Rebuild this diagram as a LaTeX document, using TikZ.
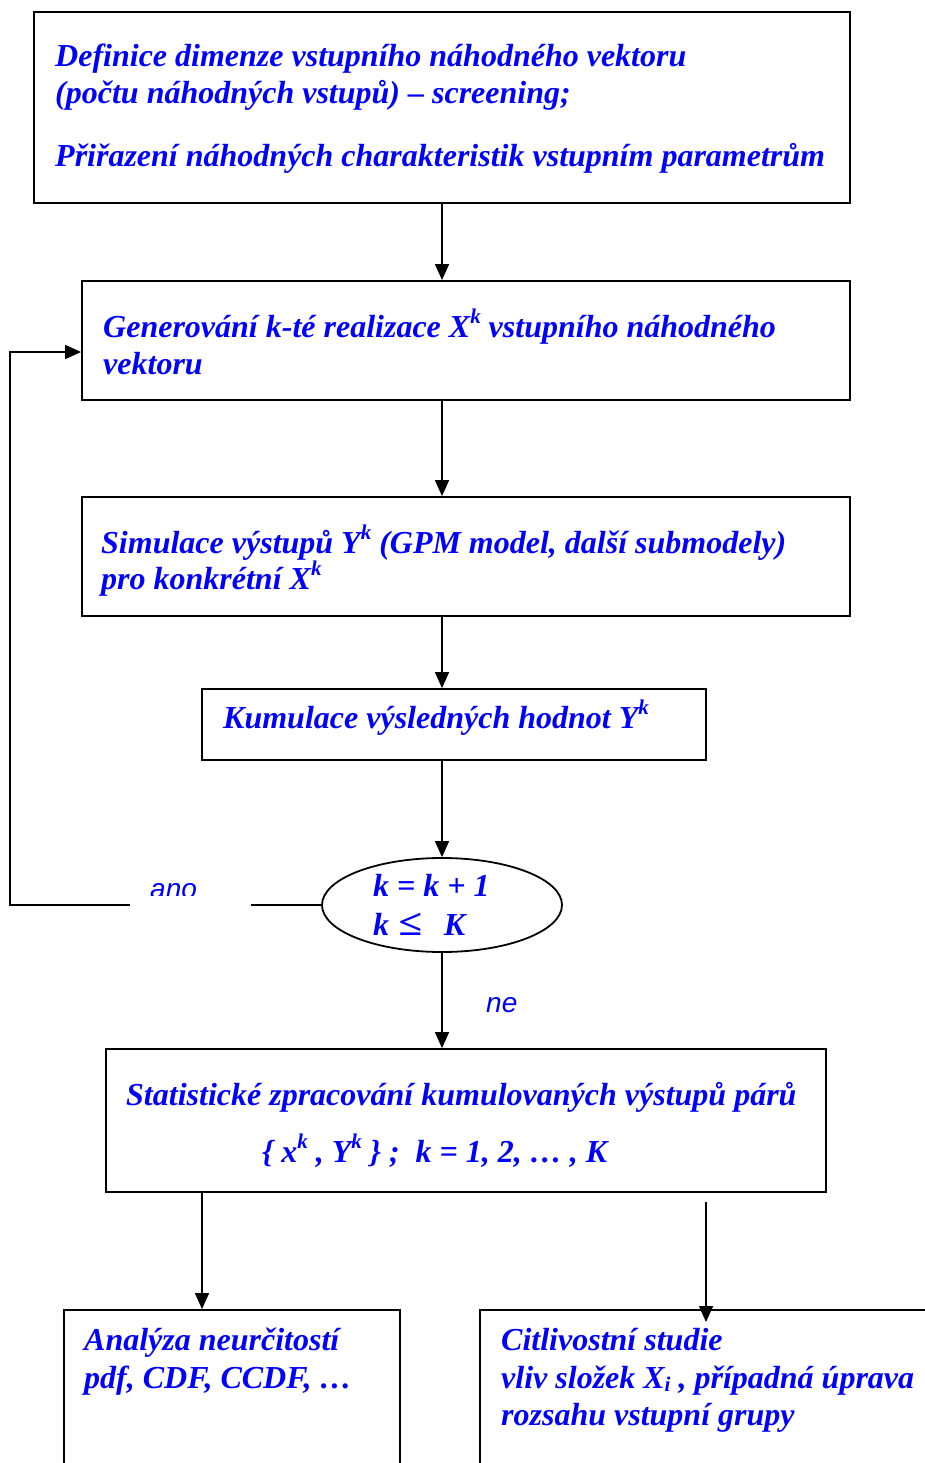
\documentclass[tikz,border=0pt]{standalone}
\usepackage{fontspec}
\setmainfont{Liberation Serif}
\newfontfamily\labfont{Liberation Sans}
\usetikzlibrary{arrows.meta,shapes.geometric}
\definecolor{txtblue}{RGB}{0,0,255}
\tikzset{
 box/.style={draw, line width=1.8pt, rectangle, inner sep=0pt},
 arr/.style={line width=1.5pt, -{Triangle[length=16pt,width=14pt]}},
 txt/.style={anchor=base west, inner sep=0pt, text=txtblue, font=\fontsize{32}{37}\selectfont\bfseries\itshape},
 lab/.style={anchor=base west, inner sep=0pt, text=txtblue, font=\fontsize{28}{32}\selectfont\labfont\itshape},
}
\newcommand{\sk}{\raisebox{0.42em}{\fontsize{21}{21}\selectfont k}}
\newcommand{\subi}{\raisebox{-0.12em}{\fontsize{21}{21}\selectfont i}}
\begin{document}
\begin{tikzpicture}[x=1pt,y=-1pt]
\useasboundingbox (0,0) rectangle (925,1463);
\fill[white] (0,0) rectangle (925,1463);
% boxes
\node[box, minimum width=816pt, minimum height=191pt] (b1) at (442,107.5) {};
\node[box, minimum width=768pt, minimum height=119pt] (b2) at (466,340.5) {};
\node[box, minimum width=768pt, minimum height=119pt] (b3) at (466,556.5) {};
\node[box, minimum width=504pt, minimum height=71pt] (b4) at (454,724.5) {};
\node[draw, line width=1.8pt, ellipse, minimum width=240pt, minimum height=94pt, inner sep=0pt] (dec) at (442,905) {};
\node[box, minimum width=720pt, minimum height=143pt] (b5) at (466,1120.5) {};
\node[box, minimum width=336pt, minimum height=250pt] (b6) at (232,1435) {};
\node[box, minimum width=520pt, minimum height=250pt] (b7) at (740,1435) {};
% texts
\node[txt] (t1a) at (55,67) {Definice dimenze vstupního náhodného vektoru};
\node[txt] (t1b) at (55,104) {(počtu náhodných vstupů) – screening;};
\node[txt] (t1c) at (55,167) {Přiřazení náhodných charakteristik vstupním parametrům};
\node[txt] (t2a) at (103,337) {Generování k-té realizace X\sk{} vstupního náhodného};
\node[txt] (t2b) at (103,374) {vektoru};
\node[txt] (t3a) at (101,553) {Simulace výstupů Y\sk{} (GPM model, další submodely)};
\node[txt] (t3b) at (101,589) {pro konkrétní X\sk};
\node[txt] (t4) at (223,728) {Kumulace výsledných hodnot Y\sk};
\node[txt] (td1) at (373,896) {k = k + 1};
\node[txt] (td2) at (373,935) {k\hspace{9pt}\scalebox{1.35}[1.15]{≤}\hspace{22pt}K};
\node[txt] (t5a) at (126,1105) {Statistické zpracování kumulovaných výstupů párů};
\node[txt] (t5b) at (262,1162) {\{ x\sk{} , Y\sk{} \} ;\ \ k = 1, 2, … , K};
\node[txt] (t6a) at (84,1350) {Analýza neurčitostí};
\node[txt] (t6b) at (84,1388) {pdf, CDF, CCDF, …};
\node[txt] (t7a) at (501,1350) {Citlivostní studie};
\node[txt] (t7b) at (501,1388) {vliv složek X\subi{} , případná úprava};
\node[txt] (t7c) at (501,1425) {rozsahu vstupní grupy};
% connectors
\draw[arr] (b1.south) -- (b1.south |- b2.north);
\draw[arr] (b2.south -| dec) -- (b3.north -| dec);
\draw[arr] (b3.south -| dec) -- (b4.north -| dec);
\draw[arr] (b4.south -| dec) -- (dec.north);
\draw[arr] (dec.south) -- (b5.north -| dec);
\coordinate (lp) at (10,905);
\draw[arr] (dec.west) -- (lp) |- ([yshift=-11.5pt]b2.west);
\coordinate (a6) at (202,1300);
\draw[arr] (b5.south -| a6) -- (b6.north -| a6);
\coordinate (s7) at (706,1202);
\coordinate (e7) at (706,1322);
\draw[arr] (s7) -- (e7);
% labels
\fill[white] (130,880) rectangle (251,907);
\begin{scope}
\clip (130,860) rectangle (251,895.5);
\node[lab] (ano) at (150,898) {ano};
\end{scope}
\node[lab] (ne) at (486,1012) {ne};
\end{tikzpicture}
\end{document}
